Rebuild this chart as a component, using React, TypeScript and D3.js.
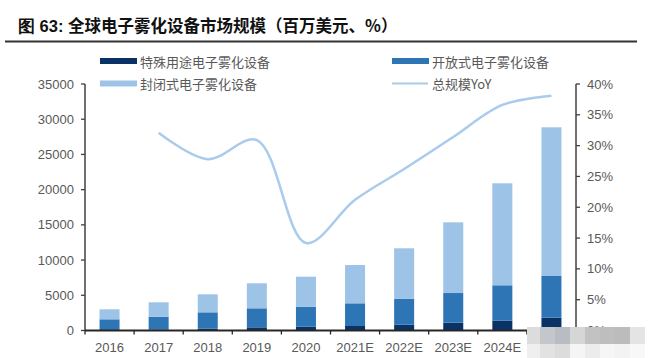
import * as d3 from "d3";

const years = ["2016", "2017", "2018", "2019", "2020", "2021E", "2022E", "2023E", "2024E", "2025E"];
const special = [50, 120, 250, 450, 540, 640, 820, 1110, 1390, 1820];
const openType = [1540, 1840, 2330, 2700, 2840, 3220, 3700, 4210, 5030, 5920];
const closedType = [1420, 2040, 2560, 3550, 4260, 5440, 7150, 10040, 14480, 21110];
const yoy: (number | null)[] = [null, 32.1, 27.8, 30.9, 14.2, 21.2, 26.2, 31.4, 36.6, 38.1];

const leftTicks = [0, 5000, 10000, 15000, 20000, 25000, 30000, 35000];
const rightTicks = [0, 5, 10, 15, 20, 25, 30, 35, 40];

const seriesNames = ["特殊用途电子雾化设备", "开放式电子雾化设备", "封闭式电子雾化设备", "总规模YoY"];
const colors = ["#0a3266", "#2e75b6", "#9dc3e6", "#a9cbec"];

const W = 651;
const H = 358;
const margin = { top: 84, left: 85, right: 75, bottom: 27.5 };
const numFont = "'Liberation Sans', Arial, sans-serif";
const cjkFont = "'Noto Sans CJK SC', sans-serif";

export default function App() {
  const x = d3
    .scaleBand<string>()
    .domain(years)
    .range([margin.left, W - margin.right]);
  const y = d3
    .scaleLinear()
    .domain([0, 35000])
    .range([H - margin.bottom, margin.top]);
  const yR = d3
    .scaleLinear()
    .domain([0, 40])
    .range([H - margin.bottom, margin.top]);

  const stack = d3
    .stack<number>()
    .keys(["0", "1", "2"])
    .value((i, key) => [special, openType, closedType][+key][i]);
  const layers = stack(years.map((_, i) => i));

  const barW = 20;
  const baseY = H - margin.bottom;
  const xL = margin.left;
  const xR = W - margin.right;

  const line = d3
    .line<[string, number | null]>()
    .defined((d) => d[1] !== null)
    .x((d) => x(d[0])! + x.bandwidth() / 2)
    .y((d) => yR(d[1] as number))
    .curve(d3.curveCatmullRom.alpha(0.5));
  const linePath = line(years.map((yr, i) => [yr, yoy[i]]));

  // mosaic covering bottom-right corner
  const mosaicCols = [527, 540, 555, 570, 585, 600, 615, 630, 645];
  const mosaicTop = ["#dcdcdc", "#c3c6ca", "#b9bdc3", "#d6d6d6", "#c2c2c2", "#bebebe", "#bcbcbc", "#e4e4e4"];
  const mosaicBot = ["#efefef", "#e2e2e2", "#dcdcdc", "#f5f5f5", "#ececec", "#f6f6f6", "#f3f3f3", "#f8f8f8"];

  return (
    <svg
      width={W}
      height={H}
      style={{ position: "absolute", left: 0, top: 0, background: "#fff" }}
    >
      <text x={18} y={32} fontFamily={cjkFont} fontWeight={700} fontSize={16.5} fill="#111">
        <tspan fontFamily={numFont}>图 63: </tspan>全球电子雾化设备市场规模（百万美元、%）
      </text>
      <line x1={5} x2={637} y1={41.5} y2={41.5} stroke="#333" strokeWidth={2} />

      {/* legend */}
      {[0, 1, 2, 3].map((i) => {
        const lx = i % 2 === 0 ? 100 : 392;
        const ly = i < 2 ? 61 : 83.5;
        return (
          <g key={i}>
            {i < 3 ? (
              <rect x={lx} y={ly - 3} width={37} height={6} fill={colors[i]} />
            ) : (
              <line x1={lx} x2={lx + 36} y1={ly} y2={ly} stroke={colors[3]} strokeWidth={2} />
            )}
            <text
              x={lx + 40}
              y={ly}
              dominantBaseline="central"
              fontFamily={cjkFont}
              fontSize={13}
              fill="#595959"
            >
              {seriesNames[i]}
            </text>
          </g>
        );
      })}

      {/* bars */}
      {layers.map((layer, li) => (
        <g key={li} fill={colors[li]}>
          {layer.map((d, i) => (
            <rect
              key={i}
              x={x(years[i])! + x.bandwidth() / 2 - barW / 2}
              y={y(d[1])}
              width={barW}
              height={y(d[0]) - y(d[1])}
            />
          ))}
        </g>
      ))}

      {/* YoY line */}
      <path d={linePath ?? ""} fill="none" stroke={colors[3]} strokeWidth={2.5} />

      {/* left axis */}
      <line x1={xL} x2={xL} y1={margin.top} y2={baseY} stroke="#404040" strokeWidth={1.5} />
      {leftTicks.map((t) => (
        <g key={t}>
          <line x1={xL - 4} x2={xL} y1={y(t)} y2={y(t)} stroke="#404040" strokeWidth={1.3} />
          <text
            x={xL - 11}
            y={y(t)}
            textAnchor="end"
            dominantBaseline="central"
            fontFamily={numFont}
            fontSize={13}
            fill="#595959"
          >
            {t}
          </text>
        </g>
      ))}

      {/* right axis */}
      <line x1={xR} x2={xR} y1={margin.top} y2={baseY} stroke="#404040" strokeWidth={1.5} />
      {rightTicks.map((t) => (
        <g key={t}>
          <line x1={xR} x2={xR + 4} y1={yR(t)} y2={yR(t)} stroke="#404040" strokeWidth={1.3} />
          <text
            x={xR + 11}
            y={yR(t)}
            dominantBaseline="central"
            fontFamily={numFont}
            fontSize={13}
            fill="#595959"
          >
            {t}%
          </text>
        </g>
      ))}

      {/* x axis */}
      <line x1={xL} x2={xR} y1={baseY} y2={baseY} stroke="#262626" strokeWidth={1.8} />
      {years.map((yr, i) => (
        <g key={yr}>
          <line
            x1={x(yr)! + x.bandwidth()}
            x2={x(yr)! + x.bandwidth()}
            y1={baseY}
            y2={baseY + 4}
            stroke="#262626"
            strokeWidth={1.3}
          />
          {i === 0 && (
            <line x1={xL} x2={xL} y1={baseY} y2={baseY + 4} stroke="#262626" strokeWidth={1.3} />
          )}
          <text
            x={x(yr)! + x.bandwidth() / 2}
            y={347}
            textAnchor="middle"
            dominantBaseline="central"
            fontFamily={numFont}
            fontSize={13}
            fill="#595959"
          >
            {yr}
          </text>
        </g>
      ))}

      {/* mosaic watermark */}
      {mosaicTop.map((c, i) => (
        <rect
          key={"t" + i}
          x={mosaicCols[i]}
          y={327}
          width={mosaicCols[i + 1] - mosaicCols[i]}
          height={17}
          fill={c}
        />
      ))}
      {mosaicBot.map((c, i) => (
        <rect
          key={"b" + i}
          x={mosaicCols[i]}
          y={344}
          width={mosaicCols[i + 1] - mosaicCols[i]}
          height={14}
          fill={c}
        />
      ))}
    </svg>
  );
}
